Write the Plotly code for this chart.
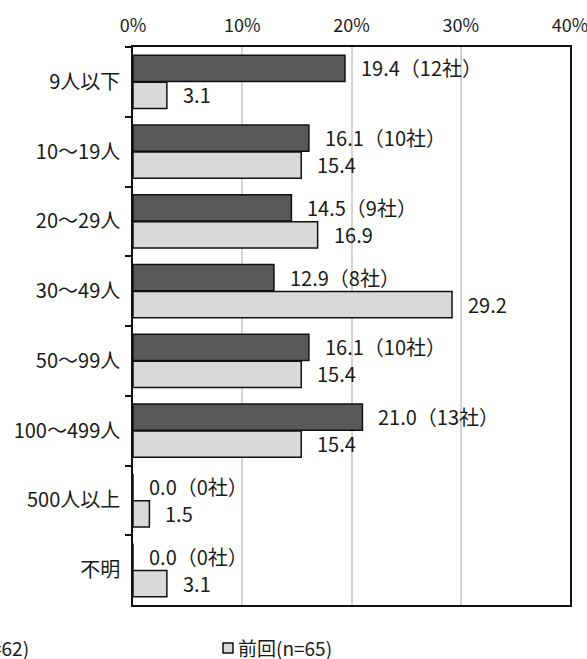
import plotly.graph_objects as go

categories = ["9人以下", "10～19人", "20～29人", "30～49人", "50～99人", "100～499人", "500人以上", "不明"]
current_pct = [19.4, 16.1, 14.5, 12.9, 16.1, 21.0, 0.0, 0.0]
current_cnt = [12, 10, 9, 8, 10, 13, 0, 0]
previous_pct = [3.1, 15.4, 16.9, 29.2, 15.4, 15.4, 1.5, 3.1]
x_ticks = [0, 10, 20, 30, 40]
x_ticklabels = ["0%", "10%", "20%", "30%", "40%"]
series_names = ["今回(n=62)", "前回(n=65)"]

FONT = "Noto Sans CJK JP"
TXT = "#1a1a1a"
W, H = 587, 659
ML, MR, MT, MB = 133, 17, 47, 54
PW = W - ML - MR
PH = H - MT - MB

def px_to_paper_x(px):
    return (px - ML) / PW

def px_to_paper_y(py):
    return (H - MB - py) / PH

fig = go.Figure()
fig.add_trace(go.Bar(
    y=categories, x=current_pct, orientation="h", name=series_names[0],
    marker=dict(color="#595959", line=dict(color="#111111", width=1.5)),
    showlegend=False,
))
fig.add_trace(go.Bar(
    y=categories, x=previous_pct, orientation="h", name=series_names[1],
    marker=dict(color="#d9d9d9", line=dict(color="#111111", width=1.5)),
    showlegend=False,
))

annotations = []
for cat, v, c in zip(categories, current_pct, current_cnt):
    annotations.append(dict(
        x=v, y=cat, xref="x", yref="y", text=f"{v:.1f}（{c}社）",
        showarrow=False, xanchor="left", yanchor="middle", xshift=14, yshift=14,
        font=dict(family=FONT, size=20, color=TXT),
    ))
for cat, v in zip(categories, previous_pct):
    annotations.append(dict(
        x=v, y=cat, xref="x", yref="y", text=f"{v:.1f}",
        showarrow=False, xanchor="left", yanchor="middle", xshift=14, yshift=-13,
        font=dict(family=FONT, size=20, color=TXT),
    ))

# legend (first item partly outside the visible page, as in the reference)
annotations.append(dict(
    x=px_to_paper_x(31), y=px_to_paper_y(647), xref="paper", yref="paper",
    text="■" + series_names[0], showarrow=False, xanchor="right", yanchor="middle",
    font=dict(family=FONT, size=19, color=TXT),
))
annotations.append(dict(
    x=px_to_paper_x(236), y=px_to_paper_y(647), xref="paper", yref="paper",
    text=series_names[1], showarrow=False, xanchor="left", yanchor="middle",
    font=dict(family=FONT, size=19, color=TXT),
))
shapes = [dict(
    type="rect", xref="paper", yref="paper",
    x0=px_to_paper_x(223), x1=px_to_paper_x(233),
    y0=px_to_paper_y(653), y1=px_to_paper_y(643),
    fillcolor="#d9d9d9", line=dict(color="#111111", width=1.5),
)]

fig.update_layout(
    width=W, height=H,
    margin=dict(l=ML, r=MR, t=MT, b=MB, autoexpand=False),
    barmode="group", bargap=0.23, bargroupgap=0.02,
    plot_bgcolor="white", paper_bgcolor="white",
    font=dict(family=FONT, size=19, color=TXT),
    annotations=annotations, shapes=shapes,
    xaxis=dict(
        range=[0, 40], side="top", tickvals=x_ticks, ticktext=x_ticklabels,
        showgrid=True, gridcolor="#d4d4d4", gridwidth=1.5, zeroline=False,
        showline=True, mirror=True, linecolor="#111111", linewidth=1.5,
        ticks="", ticklabeloverflow="allow", ticklabelstandoff=6,
        tickfont=dict(family=FONT, size=18, color=TXT),
    ),
    yaxis=dict(
        type="category", autorange="reversed", tickson="boundaries",
        ticks="outside", ticklen=6, tickcolor="#111111", tickwidth=1.5,
        ticklabelstandoff=7,
        showgrid=False, showline=True, mirror=True, linecolor="#111111", linewidth=1.5,
        tickfont=dict(family=FONT, size=20, color=TXT),
    ),
)

fig.write_html(
    "out.html",
    config={"displayModeBar": False},
    post_script="document.body.style.margin='0';document.body.style.overflow='hidden';",
)
